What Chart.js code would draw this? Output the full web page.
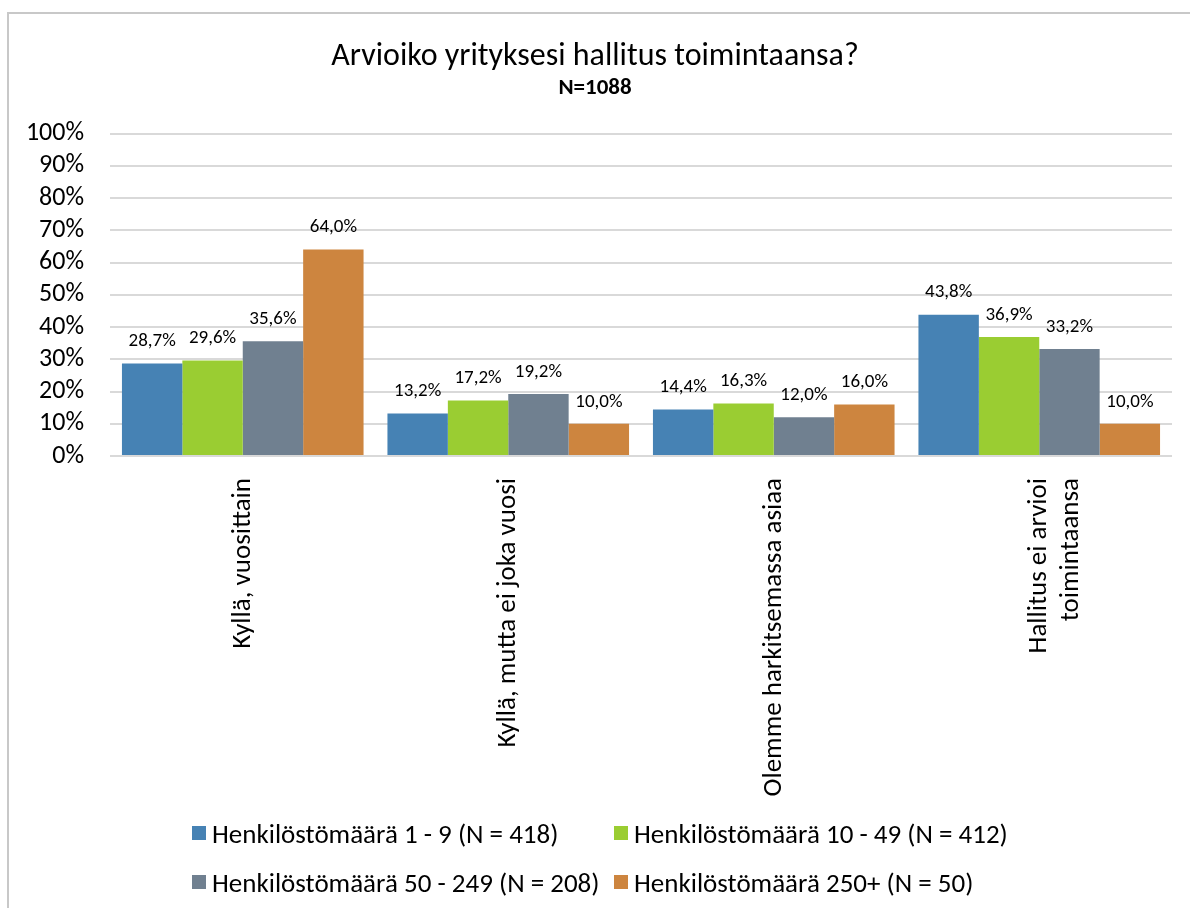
<!DOCTYPE html>
<html>
<head>
<meta charset="utf-8">
<script src="https://cdn.jsdelivr.net/npm/chart.js@4.4.1/dist/chart.umd.min.js"></script>
<style>
  html, body { margin: 0; padding: 0; background: #fff; }
  body { width: 1190px; height: 908px; position: relative; overflow: hidden; }
  #frame { position: absolute; left: 7px; top: 12px; width: 1300px; height: 1000px; border-left: 2px solid #c8c8c8; border-top: 2px solid #c8c8c8; }
  #wrap { position: absolute; left: 0; top: 0; width: 1190px; height: 908px; }
  #legend { position: absolute; left: 192px; top: 817px; display: grid; grid-template-columns: 422px 420px; row-gap: 17px; font-family: Carlito, Lato, sans-serif; font-size: 27px; color: #000; }
  .item { display: flex; align-items: center; height: 32px; white-space: nowrap; }
  .sw { width: 14px; height: 14px; margin-right: 6px; flex: none; }
</style>
</head>
<body>
<div id="frame"></div>
<div id="wrap"><canvas id="c" width="1190" height="908"></canvas></div>
<div id="legend"></div>
<script>
const categories = ['Kyllä, vuosittain', 'Kyllä, mutta ei joka vuosi', 'Olemme harkitsemassa asiaa', ['Hallitus ei arvioi', 'toimintaansa']];
const seriesNames = ['Henkilöstömäärä 1 - 9 (N = 418)', 'Henkilöstömäärä 10 - 49 (N = 412)', 'Henkilöstömäärä 50 - 249 (N = 208)', 'Henkilöstömäärä 250+ (N = 50)'];
const size1to9 = [28.7, 13.2, 14.4, 43.8];
const size10to49 = [29.6, 17.2, 16.3, 36.9];
const size50to249 = [35.6, 19.2, 12.0, 33.2];
const size250plus = [64.0, 10.0, 16.0, 10.0];
const seriesColors = ['#4682b4', '#9acd32', '#708090', '#cd853f'];
const yTickLabels = ['0%', '10%', '20%', '30%', '40%', '50%', '60%', '70%', '80%', '90%', '100%'];
const titleText = 'Arvioiko yrityksesi hallitus toimintaansa?';
const subtitleText = 'N=1088';

const FONT = 'Carlito, Lato, sans-serif';
const seriesValues = [size1to9, size10to49, size50to249, size250plus];

const dataLabels = {
  id: 'dataLabels',
  afterDatasetsDraw(chart) {
    const ctx = chart.ctx;
    ctx.save();
    ctx.font = '19px ' + FONT;
    ctx.fillStyle = '#000';
    ctx.textAlign = 'center';
    ctx.textBaseline = 'middle';
    chart.data.datasets.forEach((ds, i) => {
      const meta = chart.getDatasetMeta(i);
      meta.data.forEach((bar, j) => {
        const v = ds.data[j];
        ctx.fillText(v.toFixed(1).replace('.', ',') + '%', bar.x, bar.y - 22);
      });
    });
    ctx.restore();
  }
};

const chart = new Chart(document.getElementById('c'), {
  type: 'bar',
  data: {
    labels: categories,
    datasets: seriesValues.map((vals, i) => ({
      label: seriesNames[i],
      data: vals,
      backgroundColor: seriesColors[i],
      categoryPercentage: 0.91,
      barPercentage: 1.0
    }))
  },
  options: {
    responsive: false,
    animation: false,
    layout: { padding: { left: 18, right: 18, top: 0, bottom: 0 } },
    plugins: {
      legend: { display: false },
      tooltip: { enabled: false },
      title: { display: true, text: titleText, color: '#000', font: { family: FONT, size: 32, weight: 'normal', lineHeight: 1.1 }, padding: { top: 39, bottom: 0 } },
      subtitle: { display: true, text: subtitleText, color: '#000', font: { family: FONT, size: 23, weight: 'bold', lineHeight: 1.1 }, padding: { top: 1, bottom: 33 } }
    },
    scales: {
      x: {
        grid: { display: false },
        border: { display: false },
        ticks: { color: '#000', font: { family: FONT, size: 27 }, minRotation: 90, maxRotation: 90, padding: 14, autoSkip: false },
        afterFit(scale) { scale.height = 452; }
      },
      y: {
        min: 0, max: 100,
        grid: { color: '#d9d9d9', lineWidth: 2, drawTicks: false },
        border: { display: false },
        ticks: { stepSize: 10, autoSkip: false, color: '#000', font: { family: FONT, size: 26 }, padding: 26, callback: (v) => yTickLabels[Math.round(v / 10)] },
        afterFit(scale) { scale.width = 92; }
      }
    }
  },
  plugins: [dataLabels]
});

const legend = document.getElementById('legend');
seriesNames.forEach((n, i) => {
  const d = document.createElement('div');
  d.className = 'item';
  d.innerHTML = '<span class="sw" style="background:' + seriesColors[i] + '"></span><span>' + n + '</span>';
  legend.appendChild(d);
});
</script>
</body>
</html>
